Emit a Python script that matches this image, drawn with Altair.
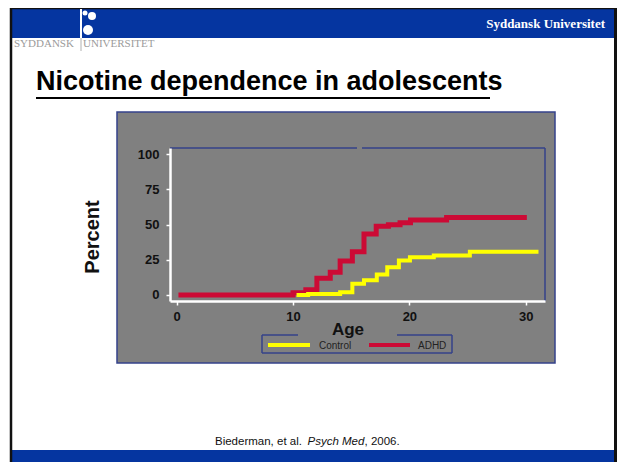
import altair as alt
import pandas as pd

# ---- data ----
adhd_age = [0.15, 10.0, 11.1, 12.05, 13.2, 14.05, 15.1, 16.1, 17.15, 18.2, 19.2, 20.1, 23.2, 30.1]
adhd_pct = [0.0, 1.6, 3.8, 11.8, 16.2, 24.2, 30.7, 43.3, 48.7, 49.8, 51.3, 53.2, 55.0, 55.0]
ctrl_age = [10.3, 11.3, 14.05, 15.1, 16.1, 17.2, 18.1, 19.1, 20.05, 22.1, 25.2, 31.1]
ctrl_pct = [0.0, 0.7, 1.9, 8.0, 10.4, 14.5, 19.6, 24.5, 26.7, 28.0, 30.7, 30.7]
x_ticks = [0, 10, 20, 30]
y_ticks = [0, 25, 50, 75, 100]
title_text = "Nicotine dependence in adolescents"
header_text = "Syddansk Universitet"
legend_labels = ["Control", "ADHD"]

adhd = pd.DataFrame({"Age": adhd_age, "Percent": adhd_pct})
ctrl = pd.DataFrame({"Age": ctrl_age, "Percent": ctrl_pct})
one = alt.Data(values=[{"k": 1}])

# view origin is at absolute (170,148); helpers convert slide pixels to view pixels
OX, OY = 170, 148
def ax(v):
    return v - OX
def ay(v):
    return v - OY

BLUE = "#0535a0"
FRAME = "#34428a"
RED = "#cc0a35"
YEL = "#ffff00"
SANS = "Liberation Sans"
SERIF = "Liberation Serif"

def rect(x1, x2, y1, y2, **kw):
    return alt.Chart(one).mark_rect(**kw).encode(
        x=alt.value(ax(x1)), x2=alt.value(ax(x2)), y=alt.value(ay(y1)), y2=alt.value(ay(y2)))

def rule(x1, x2, y1, y2, **kw):
    return alt.Chart(one).mark_rule(**kw).encode(
        x=alt.value(ax(x1)), x2=alt.value(ax(x2)), y=alt.value(ay(y1)), y2=alt.value(ay(y2)))

def text(t, x, y, **kw):
    return alt.Chart(one).mark_text(text=t, **kw).encode(x=alt.value(ax(x)), y=alt.value(ay(y)))

def dot(x, y, size, color="white"):
    return alt.Chart(one).mark_point(shape="circle", filled=True, size=size, color=color, opacity=1).encode(
        x=alt.value(ax(x)), y=alt.value(ay(y)))

layers = []
# slide header and footer bands
layers.append(rect(12, 619, 9, 38, color=BLUE))
layers.append(rect(12, 619, 450, 462, color=BLUE))
# black slide borders
layers.append(rule(11, 11, 7, 462, color="#111", strokeWidth=2.5))
layers.append(rule(10, 622, 8, 8, color="#111", strokeWidth=2.5))
layers.append(rule(615.5, 615.5, 7, 462, color="#111", strokeWidth=3))
# logo
layers.append(rule(81, 81, 9, 38, color="white", strokeWidth=2))
layers.append(rule(81, 81, 38, 51, color="#b0b0b0", strokeWidth=1))
layers.append(dot(88, 30, 100))
layers.append(dot(92, 16, 64))
layers.append(dot(85, 13, 25))
# header texts
layers.append(text(header_text, 605, 24, align="right", baseline="middle", font=SERIF,
                   fontWeight="bold", fontSize=13, color="white"))
layers.append(text("SYDDANSK", 14, 44, align="left", baseline="middle", font=SERIF,
                   fontSize=11, color="#9b9b9b"))
layers.append(text("UNIVERSITET", 83, 44, align="left", baseline="middle", font=SERIF,
                   fontSize=11, color="#9b9b9b"))
# slide title
layers.append(text(title_text, 36, 90, align="left", baseline="alphabetic", font=SANS,
                   fontWeight="bold", fontSize=27, color="#000"))
layers.append(rule(36, 490, 98, 98, color="#000", strokeWidth=2))
# citation
layers.append(text("Biederman, et al. ", 215, 445, align="left", baseline="alphabetic", font=SANS,
                   fontSize=11.5, color="#111"))
layers.append(text("Psych Med", 307.5, 445, align="left", baseline="alphabetic", font=SANS,
                   fontSize=11.5, fontStyle="italic", color="#111"))
layers.append(text(", 2006.", 364.5, 445, align="left", baseline="alphabetic", font=SANS,
                   fontSize=11.5, color="#111"))
# grey chart panel
layers.append(rect(117, 555, 112, 363, color="#808080", stroke=FRAME, strokeWidth=1.5))
# inner frame (top with small gap, right)
layers.append(rule(170, 357, 148, 148, color=FRAME, strokeWidth=1.5))
layers.append(rule(362, 545, 148, 148, color=FRAME, strokeWidth=1.5))
layers.append(rule(545, 545, 148, 301, color=FRAME, strokeWidth=1.5))
# axis titles
layers.append(text("Percent", 93, 237, align="center", baseline="middle", angle=270, font=SANS,
                   fontWeight="bold", fontSize=20, color="#111"))
layers.append(text("Age", 348, 330, align="center", baseline="middle", font=SANS,
                   fontWeight="bold", fontSize=17, color="#111"))

xs = alt.Scale(domain=[-0.576, 31.66], nice=False, zero=False)
ys = alt.Scale(domain=[-4.26, 104.26], nice=False, zero=False)
axis_common = dict(title=None, grid=False, domainColor="white", domainWidth=2.5,
                   tickColor="white", tickWidth=1.5, tickSize=4, labelFont=SANS,
                   labelFontWeight="bold", labelFontSize=13, labelColor="#111", zindex=1)
xa = alt.Axis(values=x_ticks, labelPadding=5, **axis_common)
ya = alt.Axis(values=y_ticks, labelPadding=7, **axis_common)

red_line = alt.Chart(adhd).mark_line(interpolate="step-after", color=RED, strokeWidth=5,
                                      strokeCap="butt").encode(
    x=alt.X("Age:Q", scale=xs, axis=xa), y=alt.Y("Percent:Q", scale=ys, axis=ya))
yel_line = alt.Chart(ctrl).mark_line(interpolate="step-after", color=YEL, strokeWidth=4,
                                     strokeCap="butt").encode(
    x=alt.X("Age:Q", scale=xs, axis=xa), y=alt.Y("Percent:Q", scale=ys, axis=ya))
layers.append(red_line)
layers.append(yel_line)

# legend box (top edge broken by the "Age" title)
layers.append(rule(262, 262, 335, 353, color=FRAME, strokeWidth=1.5))
layers.append(rule(452, 452, 335, 353, color=FRAME, strokeWidth=1.5))
layers.append(rule(262, 452, 353, 353, color=FRAME, strokeWidth=1.5))
layers.append(rule(262, 298, 335, 335, color=FRAME, strokeWidth=1.5))
layers.append(rule(397, 452, 335, 335, color=FRAME, strokeWidth=1.5))
layers.append(rule(268, 310, 345, 345, color=YEL, strokeWidth=4))
layers.append(rule(369, 410, 345, 345, color=RED, strokeWidth=4))
layers.append(text(legend_labels[0], 319, 346, align="left", baseline="middle", font=SANS,
                   fontSize=10, color="#222"))
layers.append(text(legend_labels[1], 418, 346, align="left", baseline="middle", font=SANS,
                   fontSize=10, color="#222"))

chart = alt.layer(*layers).properties(
    width=375, height=153,
    padding={"left": 162, "top": 140, "right": 72, "bottom": 161},
    autosize=alt.AutoSizeParams(type="none"),
    background="white",
).configure_view(stroke=None)

chart.save("out.html", embed_options={"renderer": "svg", "actions": False})
